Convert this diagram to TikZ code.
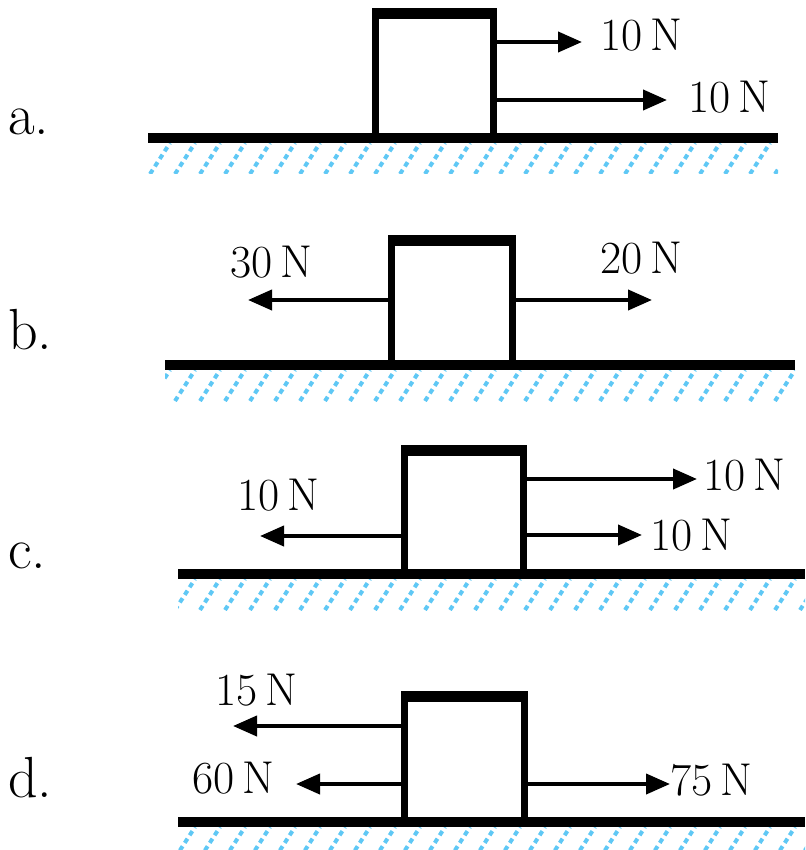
\documentclass[tikz,border=0pt]{standalone}
\usetikzlibrary{arrows.meta}
\definecolor{hatchblue}{RGB}{95,200,245}
\tikzset{
  block/.style={draw, line width=7pt, inner sep=0pt, outer sep=0pt},
  lid/.style={line width=11pt, shorten <=-3.5pt, shorten >=-3.5pt},
  force/.style={line width=4pt, -{Triangle[length=24pt,width=20pt]}},
  flabel/.style={inner sep=0pt, anchor=west, font=\fontsize{46}{54}\selectfont},
  plabel/.style={inner sep=0pt, anchor=west, font=\fontsize{58}{66}\selectfont},
  ground/.style={line width=10pt},
  hatch/.style={hatchblue, line width=4pt, dash pattern=on 5pt off 4pt},
}
\begin{document}
\begin{tikzpicture}[x=1pt, y=-1pt]
  \useasboundingbox (0,0) rectangle (805,850);
  % floors
  \foreach \xl/\xr/\yg in {148/778/138, 165/795/365, 178/805/574, 178/805/822} {
    \begin{scope}
      \clip (\xl,\yg+5) rectangle (\xr,\yg+36);
      \foreach \x in {100,125,...,850}
        \draw[hatch] (\x,\yg+36) -- (\x+20,\yg+5);
    \end{scope}
    \draw[ground] (\xl,\yg) -- (\xr,\yg);
  }
  % blocks
  \node[block, minimum width=118pt, minimum height=124.5pt] (boxa) at (434.5,75.75) {};
  \node[block, minimum width=121pt, minimum height=124.5pt] (boxb) at (452,302.75) {};
  \node[block, minimum width=119pt, minimum height=123.5pt] (boxc) at (464,512.25) {};
  \node[block, minimum width=120pt, minimum height=125.5pt] (boxd) at (464.5,759.25) {};
  \foreach \b in {boxa,boxb,boxc,boxd}
    \draw[lid] (\b.north west) -- (\b.north east);
  % panel letters
  \node[plabel] (pa) at (8,122) {a.};
  \node[plabel] (pb) at (8,330) {b.};
  \node[plabel] (pc) at (8,556) {c.};
  \node[plabel] (pd) at (8,778) {d.};
  % arrow tips
  \coordinate (ta1) at (582,42);
  \coordinate (ta2) at (667,100);
  \coordinate (tb1) at (248,300);
  \coordinate (tb2) at (652,300);
  \coordinate (tc1) at (697,479);
  \coordinate (tc2) at (642,535);
  \coordinate (tc3) at (260,536);
  \coordinate (td1) at (233,726);
  \coordinate (td2) at (296,784);
  \coordinate (td3) at (670,784);
  % force labels
  \node[flabel] (la1) at (600,35) {10\,N};
  \node[flabel] (la2) at (688,97) {10\,N};
  \node[flabel] (lb1) at (230,262) {30\,N};
  \node[flabel] (lb2) at (600,258) {20\,N};
  \node[flabel] (lc1) at (703,475) {10\,N};
  \node[flabel] (lc2) at (650,535) {10\,N};
  \node[flabel] (lc3) at (237,495) {10\,N};
  \node[flabel] (ld1) at (215,690) {15\,N};
  \node[flabel] (ld2) at (192,778) {60\,N};
  \node[flabel] (ld3) at (670,780) {75\,N};
  \begin{scope}[force]
    \draw (boxa.east |- ta1) -- (ta1);
    \draw (boxa.east |- ta2) -- (ta2);
    \draw (boxb.west |- tb1) -- (tb1);
    \draw (boxb.east |- tb2) -- (tb2);
    \draw (boxc.east |- tc1) -- (tc1);
    \draw (boxc.east |- tc2) -- (tc2);
    \draw (boxc.west |- tc3) -- (tc3);
    \draw (boxd.west |- td1) -- (td1);
    \draw (boxd.west |- td2) -- (td2);
    \draw (boxd.east |- td3) -- (td3);
  \end{scope}
\end{tikzpicture}
\end{document}
